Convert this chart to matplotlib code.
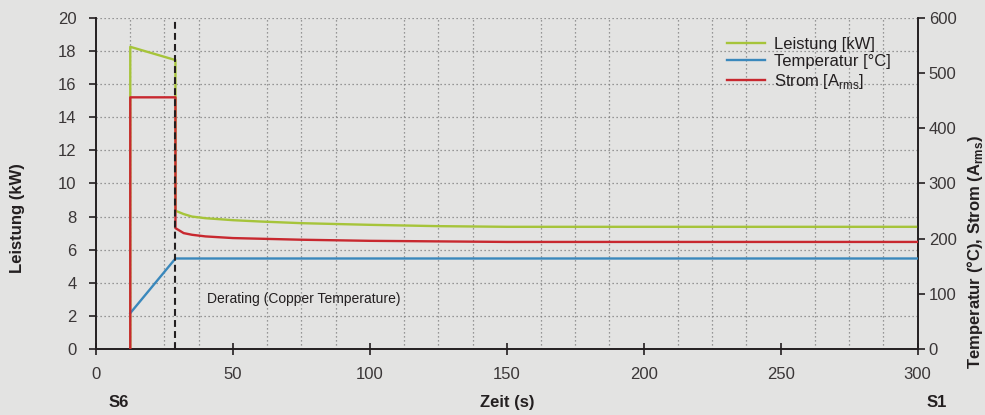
import numpy as np
import matplotlib.pyplot as plt

# values
t_power = [12.5, 12.5, 29, 29, 32, 35, 40, 50, 60, 75, 100, 125, 150, 200, 300]
power = [0, 18.25, 17.45, 8.35, 8.15, 8.0, 7.9, 7.78, 7.7, 7.6, 7.5, 7.42, 7.38, 7.38, 7.38]

t_temp = [12.5, 29, 300]
temp = [65, 164, 164]

t_curr = [12.5, 12.5, 29, 29, 32, 35, 40, 50, 75, 100, 125, 150, 300]
curr = [0, 456, 456, 219, 210, 207, 204, 201, 198, 196, 195, 194, 194]

t_derate = 29

bg = '#e3e3e2'
c_green = '#a6c43a'
c_blue = '#3a88bc'
c_red = '#c8282f'
ink = '#231f20'
tick_ink = '#3a3637'

plt.rcParams['font.family'] = ['Liberation Sans', 'DejaVu Sans']
plt.rcParams['font.size'] = 12
plt.rcParams['mathtext.fontset'] = 'custom'
plt.rcParams['mathtext.rm'] = 'Liberation Sans'
plt.rcParams['mathtext.bf'] = 'Liberation Sans:bold'

fig = plt.figure(figsize=(9.85, 4.15), dpi=100, facecolor=bg)
ax = fig.add_axes([0.0975, 0.159, 0.834, 0.798], facecolor=bg)
ax2 = ax.twinx()

ax.set_xlim(0, 300)
ax.set_ylim(0, 20)
ax2.set_ylim(0, 600)
ax.set_xticks(np.arange(0, 301, 50))
ax.set_xticks(np.arange(0, 301, 12.5), minor=True)
ax.set_yticks(np.arange(0, 21, 2))
ax2.set_yticks(np.arange(0, 601, 100))

grid_style = dict(color='#7d7d7d', linestyle=(0, (1, 2.2)), linewidth=0.9)
ax.grid(True, which='minor', axis='x', **grid_style)
ax.grid(True, which='major', axis='y', **grid_style)
ax.tick_params(axis='x', which='minor', length=0)
ax.tick_params(axis='x', which='major', direction='inout', length=8, pad=9,
               colors=ink, labelcolor=tick_ink, labelsize=12, width=1.2)
ax.tick_params(axis='y', direction='out', length=5, pad=9, colors=ink,
               labelcolor=tick_ink, labelsize=12, width=1.2)
ax2.tick_params(axis='y', direction='out', length=5, pad=3, colors=ink,
                labelcolor=tick_ink, labelsize=12, width=1.2)

for a in (ax, ax2):
    a.spines['top'].set_visible(False)
    for s in ('left', 'right', 'bottom'):
        a.spines[s].set_color(ink)
        a.spines[s].set_linewidth(1.2)

ax.plot(t_power, power, color=c_green, lw=1.7, label='Leistung [kW]', zorder=3)
ax2.plot(t_temp, temp, color=c_blue, lw=1.7, label='Temperatur [°C]', zorder=3)
ax2.plot(t_curr, curr, color=c_red, lw=1.7, label='Strom [A$_{\\mathrm{rms}}$]', zorder=3)
ax2.axvline(t_derate, color=ink, lw=1.5, linestyle=(0, (3.3, 2)), zorder=4)

ax.text(40.5, 3.0, 'Derating (Copper Temperature)', fontsize=10, color=ink, va='center')

h1, l1 = ax.get_legend_handles_labels()
h2, l2 = ax2.get_legend_handles_labels()
ax2.legend(h1 + h2, l1 + l2, loc='upper left', bbox_to_anchor=(727 / 985, 1 - 37 / 415),
           bbox_transform=fig.transFigure, frameon=False, borderpad=0, borderaxespad=0,
           fontsize=12, handlelength=2.27, labelspacing=0.14, handletextpad=0.54,
           labelcolor=ink)

fig.text(18 / 985, 0.475, 'Leistung (kW)', rotation=90, ha='center', va='center',
         fontsize=12, fontweight='bold', color=ink)
fig.text(507 / 985, 0.029, 'Zeit (s)', ha='center', va='center', fontsize=12,
         fontweight='bold', color=ink)
fig.text(119 / 985, 0.029, 'S6', ha='center', va='center', fontsize=12, fontweight='bold', color=ink)
fig.text(937 / 985, 0.029, 'S1', ha='center', va='center', fontsize=12, fontweight='bold', color=ink)
fig.text(975 / 985, 0.393, 'Temperatur (°C), Strom (A$_{\\mathbf{rms}}$)', rotation=90,
         ha='center', va='center', fontsize=12, fontweight='bold', color=ink)

fig.savefig('out.png', dpi=100, facecolor=bg)
